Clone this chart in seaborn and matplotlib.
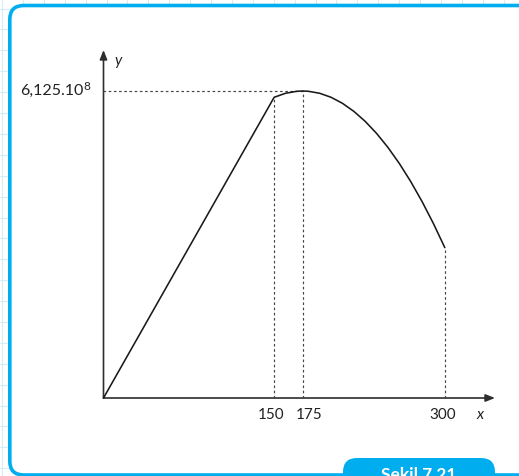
import matplotlib
matplotlib.use("Agg")
import matplotlib.pyplot as plt
from matplotlib.patches import FancyBboxPatch
import seaborn as sns

# Profit curve y(x), y in units of 10^8
x_vals = [0, 150, 160, 170, 175, 180, 190, 200, 210, 220, 230, 240, 250, 260, 270, 280, 290, 300]
y_vals = [0.0, 6.0, 6.08, 6.12, 6.125, 6.12, 6.08, 6.0, 5.88, 5.72, 5.52, 5.28, 5.0, 4.68, 4.32, 3.92, 3.48, 3.0]

# Marked x positions and their labels
x_marks = [150, 175, 300]
x_mark_labels = ["150", "175", "300"]
x_label_offsets = [-3, 6, -2]   # pixel nudges so 150 and 175 don't collide

peak_x = 175
peak_label = "6,125.10"
peak_exp = "8"
caption = "Şekil 7.21"

sns.set_style("white")
plt.rcParams["font.family"] = ["Lato", "DejaVu Sans"]

W, H = 519, 476
fig = plt.figure(figsize=(W / 100, H / 100), dpi=100)

# ---- page background: graph paper, framed box, caption tab (pixel coords) ----
bg = fig.add_axes([0, 0, 1, 1], zorder=0)
bg.set_xlim(0, W)
bg.set_ylim(H, 0)
bg.axis("off")
grid_c = "#d5ebf7"
gx = 2
while gx < W:
    bg.axvline(gx, color=grid_c, lw=0.8, zorder=0)
    gx += 20.9
gy = 8.5
while gy < H:
    bg.axhline(gy, color=grid_c, lw=0.8, zorder=0)
    gy += 20.9

cyan = "#00aeef"
frame = FancyBboxPatch((9.8, 5.5), 530, 469.5,
                       boxstyle="round,pad=0,rounding_size=14",
                       facecolor="white", edgecolor=cyan, lw=2.6, zorder=1)
bg.add_patch(frame)
tab = FancyBboxPatch((343, 458), 152, 40,
                     boxstyle="round,pad=0,rounding_size=14",
                     facecolor=cyan, edgecolor="none", zorder=2)
bg.add_patch(tab)
bg.text(419, 467, caption, color="white", fontsize=12.5, fontweight="bold",
        ha="center", va="top", zorder=3)

# ---- graph axes ----
px_per_x = 1.1377
px_per_y = 50.12
x0_px, y0_px = 103.5, 78.0
ax = fig.add_axes([0, 0, 1, 1], zorder=1)
ax.patch.set_alpha(0)
ax.set_xlim(-x0_px / px_per_x, (W - x0_px) / px_per_x)
ax.set_ylim(-y0_px / px_per_y, (H - y0_px) / px_per_y)
ax.axis("off")

def dx(p):
    return p / px_per_x

def dy(p):
    return p / px_per_y

axis_c = "#2e2e2e"
x_end = dx(495 - x0_px)
y_end = dy((H - 50) - y0_px)
ax.annotate("", xy=(x_end, 0), xytext=(0, 0),
            arrowprops=dict(arrowstyle="-|>,head_length=0.55,head_width=0.22",
                            lw=1.2, color=axis_c, shrinkA=0, shrinkB=0))
ax.annotate("", xy=(0, y_end), xytext=(0, 0),
            arrowprops=dict(arrowstyle="-|>,head_length=0.55,head_width=0.22",
                            lw=1.2, color=axis_c, shrinkA=0, shrinkB=0))

# the curve
sns.lineplot(x=x_vals, y=y_vals, sort=False, estimator=None, ax=ax,
             color="#1a1a1a", lw=1.15, zorder=4)

# dotted guides
guide = dict(color="#444444", lw=0.85, ls=(0, (2.2, 2.2)), zorder=3)
for xm in x_marks:
    ym = y_vals[x_vals.index(xm)]
    ax.plot([xm, xm], [0, ym], **guide)
peak_y = y_vals[x_vals.index(peak_x)]
ax.plot([0, peak_x], [peak_y, peak_y], **guide)

# labels
for xm, lab, off in zip(x_marks, x_mark_labels, x_label_offsets):
    ax.text(xm + dx(off), -dy(10), lab, ha="center", va="top",
            fontsize=11, color="#222222")
ax.text(dx(480 - x0_px), -dy(10), "x", ha="center", va="top",
        fontsize=11, style="italic", color="#222222")
ax.text(dx(118 - x0_px), dy((H - 61) - y0_px), "y", ha="center", va="center",
        fontsize=11, style="italic", color="#222222")

ax.text(dx(84 - x0_px), peak_y, peak_label, ha="right", va="center",
        fontsize=11.5, color="#222222")
ax.text(dx(83.5 - x0_px), peak_y + dy(4.5), peak_exp, ha="left", va="center",
        fontsize=8.5, color="#222222")

fig.savefig("out.png", dpi=100)
